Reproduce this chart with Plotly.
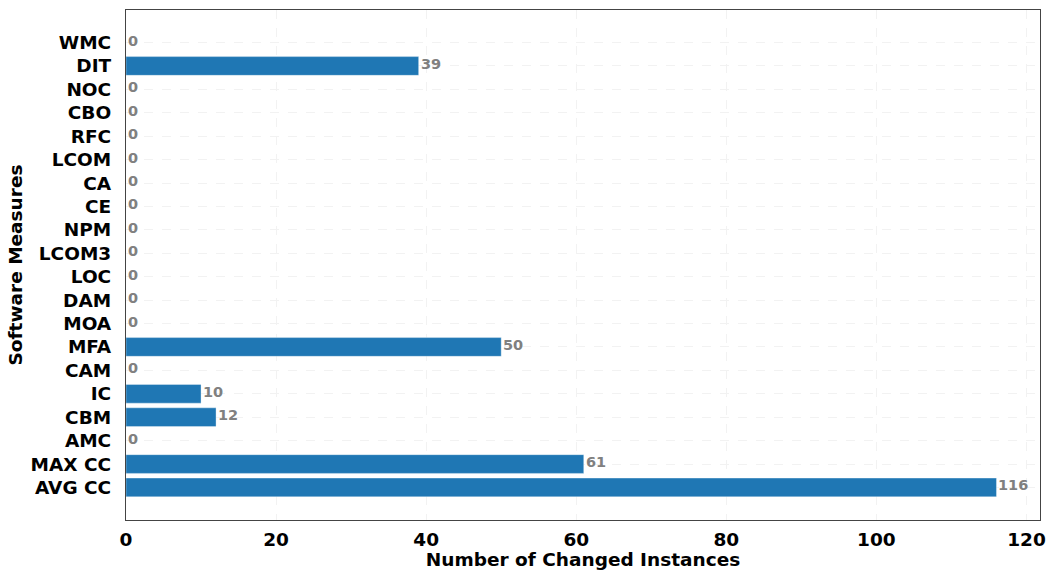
import plotly.graph_objects as go

# Software measures, bottom to top
measures = ["AVG CC", "MAX CC", "AMC", "CBM", "IC", "CAM", "MFA", "MOA", "DAM", "LOC",
            "LCOM3", "NPM", "CE", "CA", "LCOM", "RFC", "CBO", "NOC", "DIT", "WMC"]
changed = [116, 61, 0, 12, 10, 0, 50, 0, 0, 0,
           0, 0, 0, 0, 0, 0, 0, 0, 39, 0]
x_ticks = [0, 20, 40, 60, 80, 100, 120]

FONT = "DejaVu Sans"
BAR_COLOR = "#1f77b4"

fig = go.Figure()

fig.add_trace(go.Bar(
    y=measures,
    x=changed,
    orientation="h",
    width=0.8,
    marker=dict(color=BAR_COLOR, line=dict(color="rgba(255,255,255,0.35)", width=1)),
    hoverinfo="x+y",
    showlegend=False,
))

# value labels just right of each bar end
for name, val in zip(measures, changed):
    fig.add_annotation(
        x=val, y=name,
        text=str(val),
        showarrow=False,
        xanchor="left",
        yanchor="middle",
        xshift=0,
        yshift=2,
        font=dict(family=FONT, size=14.5, color="#808080", weight="bold"),
    )

fig.update_layout(
    width=1050,
    height=570,
    margin=dict(l=126, r=10, t=10, b=50, autoexpand=False),
    paper_bgcolor="white",
    plot_bgcolor="white",
    font=dict(family=FONT, color="black"),
    bargap=0.2,
)

fig.update_xaxes(
    range=[0, 121.8],
    tickvals=x_ticks,
    ticktext=[str(t) for t in x_ticks],
    tickfont=dict(family=FONT, size=18.5, color="black", weight="bold"),
    ticks="",
    ticklabelstandoff=3,
    automargin=False,
    showgrid=True,
    gridcolor="#f2f2f2",
    griddash="dash",
    gridwidth=1,
    zeroline=False,
    showline=True,
    linecolor="#444444",
    linewidth=1.2,
    mirror=True,
    title=dict(text="Number of Changed Instances",
               font=dict(family=FONT, size=18.5, color="black", weight="bold"),
               standoff=0),
)

fig.update_yaxes(
    type="category",
    categoryorder="array",
    categoryarray=measures,
    range=[-1.39, 20.39],
    tickfont=dict(family=FONT, size=18.5, color="black", weight="bold"),
    ticks="",
    ticklabelstandoff=10,
    automargin=False,
    showgrid=True,
    gridcolor="#f2f2f2",
    griddash="dash",
    gridwidth=1,
    zeroline=False,
    showline=True,
    linecolor="#444444",
    linewidth=1.2,
    mirror=True,
    title=dict(text="Software Measures",
               font=dict(family=FONT, size=18.5, color="black", weight="bold"),
               standoff=3),
)

fig.write_html("out.html")
